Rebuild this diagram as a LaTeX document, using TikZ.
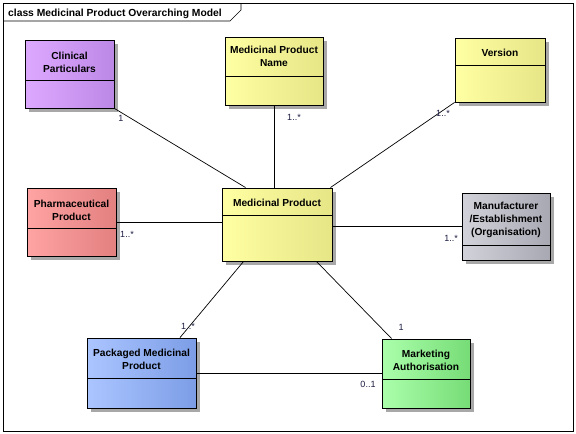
\documentclass[tikz,border=0pt]{standalone}
\usepackage{fontspec}
\setmainfont{Liberation Sans}
\usetikzlibrary{shadows}
\definecolor{cpL}{HTML}{DDA9FF}\definecolor{cpR}{HTML}{BC88E6}
\definecolor{yeL}{HTML}{FFFFA3}\definecolor{yeR}{HTML}{E6E687}
\definecolor{ppL}{HTML}{FFA3A3}\definecolor{ppR}{HTML}{E38080}
\definecolor{mfL}{HTML}{D2D2DA}\definecolor{mfR}{HTML}{A8A8B3}
\definecolor{pmL}{HTML}{ABC5FF}\definecolor{pmR}{HTML}{7C9DE6}
\definecolor{maL}{HTML}{ABFFAB}\definecolor{maR}{HTML}{76DC76}
\definecolor{lbl}{HTML}{1A1A40}
\definecolor{shd}{HTML}{A8A8A8}
\tikzset{
  cls/.style={draw=black, line width=0.9pt, inner sep=0pt,
    drop shadow={shadow xshift=4pt, shadow yshift=-4pt, opacity=1, fill=shd}},
  ctxt/.style={font=\fontsize{10.2}{13}\selectfont\bfseries, align=center, inner sep=0pt},
  divider/.style={line width=0.9pt},
  assoc/.style={line width=0.7pt},
  mult/.style={font=\fontsize{9}{10}\selectfont, text=lbl, inner sep=0pt},
  frame/.style={line width=0.7pt}
}
\begin{document}
\begin{tikzpicture}[x=1pt,y=-1pt]
\useasboundingbox (0,0) rectangle (576,434);
% frame
\draw[frame] (3,3) rectangle (573,431);
\draw[frame] (3,21) -- (230,21) -- (241,10) -- (241,3);
\node[font=\fontsize{10.3}{12}\selectfont\bfseries, anchor=base west, inner sep=0pt] (title) at (8,16) {class Medicinal Product Overarching Model};

% classes
\node[cls, left color=cpL, middle color=cpL, right color=cpR, minimum width=89pt, minimum height=68pt] (CP) at (69.5,74) {};
\draw[divider] (25,80) -- (114,80);
\node[ctxt] (CPt) at (69.5,62) {Clinical\\Particulars};

\node[cls, left color=yeL, middle color=yeL, right color=yeR, minimum width=98pt, minimum height=68pt] (MPN) at (274,71) {};
\draw[divider] (225,76) -- (323,76);
\node[ctxt] (MPNt) at (274,56.5) {Medicinal Product\\Name};

\node[cls, left color=yeL, middle color=yeL, right color=yeR, minimum width=90pt, minimum height=64pt] (V) at (500,70) {};
\draw[divider] (455,65) -- (545,65);
\node[ctxt] (Vt) at (500,53) {Version};

\node[cls, left color=ppL, middle color=ppL, right color=ppR, minimum width=89pt, minimum height=68pt] (PP) at (71.5,222) {};
\draw[divider] (27,228) -- (116,228);
\node[ctxt] (PPt) at (71.5,210.5) {Pharmaceutical\\Product};

\node[cls, left color=yeL, middle color=yeL, right color=yeR, minimum width=110pt, minimum height=73pt] (MP) at (277,224.5) {};
\draw[divider] (222,215) -- (332,215);
\node[ctxt] (MPt) at (277,203) {Medicinal Product};

\node[cls, left color=mfL, middle color=mfL, right color=mfR, minimum width=88pt, minimum height=67pt] (MF) at (506,226.5) {};
\draw[divider] (462,245) -- (550,245);
\node[ctxt] (MFt) at (506,220) {Manufacturer\\/Establishment\\(Organisation)};

\node[cls, left color=pmL, middle color=pmL, right color=pmR, minimum width=109pt, minimum height=70pt] (PMP) at (141.5,373) {};
\draw[divider] (87,378) -- (196,378);
\node[ctxt] (PMPt) at (141.5,359.5) {Packaged Medicinal\\Product};

\node[cls, left color=maL, middle color=maL, right color=maR, minimum width=88pt, minimum height=69pt] (MA) at (426,373.5) {};
\draw[divider] (382,379) -- (470,379);
\node[ctxt] (MAt) at (426,360.5) {Marketing\\Authorisation};

% associations
\draw[assoc] (CP.south east) -- ([xshift=24pt]MP.north west);
\draw[assoc] (MPN.south) -- (MPN.south |- MP.north);
\draw[assoc] (V.south west) -- ([xshift=-2pt]MP.north east);
\draw[assoc] (PP.east) -- (PP.east -| MP.west);
\draw[assoc] (MF.west) -- (MF.west -| MP.east);
\draw[assoc] ([xshift=38.5pt]PMP.north) -- ([xshift=22pt]MP.south west);
\draw[assoc] ([xshift=10pt]MA.north west) -- ([xshift=-16pt]MP.south east);
\draw[assoc] (PMP.east) -- (PMP.east -| MA.west);

% multiplicities
\node[mult] (m1) at (121,118) {1};
\node[mult] (m2) at (294,117) {1..*};
\node[mult] (m3) at (443,113) {1..*};
\node[mult] (m4) at (127,234) {1..*};
\node[mult] (m5) at (451,238) {1..*};
\node[mult] (m6) at (188,326) {1..*};
\node[mult] (m7) at (401,327) {1};
\node[mult] (m8) at (368,384) {0..1};
\end{tikzpicture}
\end{document}
